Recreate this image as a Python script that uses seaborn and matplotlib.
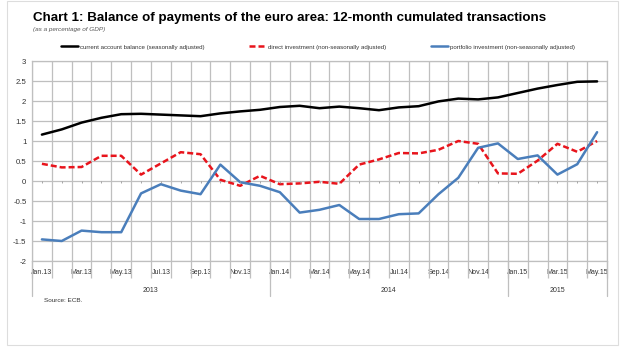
import numpy as np
import pandas as pd
import matplotlib
matplotlib.use("Agg")
import matplotlib.pyplot as plt
import seaborn as sns
from matplotlib import font_manager
from matplotlib.patches import Rectangle
from matplotlib.ticker import FixedLocator, FuncFormatter

# Monthly observations, Jan 2013 - May 2015
months = ["Jan.13", "Feb.13", "Mar.13", "Apr.13", "May.13", "Jun.13", "Jul.13",
          "Aug.13", "Sep.13", "Oct.13", "Nov.13", "Dec.13",
          "Jan.14", "Feb.14", "Mar.14", "Apr.14", "May.14", "Jun.14", "Jul.14",
          "Aug.14", "Sep.14", "Oct.14", "Nov.14", "Dec.14",
          "Jan.15", "Feb.15", "Mar.15", "Apr.15", "May.15"]

current_account = [1.16, 1.29, 1.46, 1.58, 1.67, 1.68, 1.66, 1.64, 1.62, 1.69,
                   1.74, 1.78, 1.85, 1.88, 1.82, 1.86, 1.82, 1.77, 1.84, 1.87,
                   1.99, 2.06, 2.04, 2.09, 2.20, 2.31, 2.40, 2.48, 2.49]
direct_investment = [0.43, 0.34, 0.35, 0.63, 0.63, 0.16, 0.44, 0.72, 0.67, 0.03,
                     -0.12, 0.13, -0.08, -0.06, -0.02, -0.07, 0.41, 0.54, 0.70, 0.69,
                     0.78, 1.00, 0.93, 0.19, 0.18, 0.51, 0.93, 0.73, 1.00]
portfolio_investment = [-1.46, -1.50, -1.24, -1.28, -1.28, -0.31, -0.08, -0.24, -0.33, 0.41,
                        -0.03, -0.12, -0.28, -0.79, -0.72, -0.60, -0.95, -0.95, -0.83, -0.81,
                        -0.33, 0.08, 0.83, 0.94, 0.55, 0.64, 0.16, 0.42, 1.22]

years = ["2013", "2014", "2015"]
series_names = ["current account balance (seasonally adjusted)",
                "direct investment (non-seasonally adjusted)",
                "portfolio investment (non-seasonally adjusted)"]

title = "Chart 1: Balance of payments of the euro area: 12-month cumulated transactions"
subtitle = "(as a percentage of GDP)"
source = "Source: ECB."

# long-form table for seaborn
idx = np.arange(len(months))
df = pd.concat([
    pd.DataFrame({"x": idx, "value": vals, "series": name})
    for name, vals in zip(series_names, [current_account, direct_investment, portfolio_investment])
], ignore_index=True)

available = {f.name for f in font_manager.fontManager.ttflist}
narrow = "Liberation Sans Narrow" if "Liberation Sans Narrow" in available else "Liberation Sans"

sns.set_theme(style="white")
plt.rcParams["font.family"] = [narrow, "DejaVu Sans"]

W, H = 625, 347
fig = plt.figure(figsize=(W / 100, H / 100), dpi=100)
fig.patch.set_facecolor("white")

left, right, top, bottom = 32, 607, 61, 261
ax = fig.add_axes([left / W, 1 - bottom / H, (right - left) / W, (bottom - top) / H])

LW = 1.8
DASH = [2.4, 1.2]
palette = {series_names[0]: "#000000", series_names[1]: "#e8141c", series_names[2]: "#4a7ebb"}
sns.lineplot(data=df, x="x", y="value", hue="series", palette=palette, ax=ax,
             linewidth=LW, legend=False)
ax.lines[1].set_dashes(DASH)

grid_col = "#bfbfbf"
lab_col = "#333333"
ax.set_xlim(-0.5, len(months) - 0.5)
ax.set_ylim(-2, 3)
ax.set_yticks(np.arange(-2, 3.01, 0.5))
ax.yaxis.set_major_formatter(FuncFormatter(lambda v, p: f"{v:g}"))
ax.tick_params(axis="y", length=0, pad=4, labelsize=5.6, labelcolor=lab_col)
ax.grid(axis="y", color=grid_col, linewidth=0.9)

# category boundaries: vertical grid and downward ticks
ax.xaxis.set_minor_locator(FixedLocator(np.arange(-0.5, len(months), 1.0)))
ax.xaxis.set_major_locator(FixedLocator(idx[::2]))
ax.set_xticklabels(months[::2])
ax.tick_params(axis="x", which="major", length=0, pad=6, labelsize=5.0, labelcolor=lab_col)
ax.tick_params(axis="x", which="minor", length=12, width=0.9, color=grid_col, direction="out",
               bottom=True)
ax.grid(axis="x", which="minor", color=grid_col, linewidth=0.9)
ax.set_xlabel("")
ax.set_ylabel("")
for s in ax.spines.values():
    s.set_color(grid_col)
    s.set_linewidth(0.9)

# small marks on the zero line
ax.vlines(idx, -0.05, 0, color="#999999", linewidth=0.6)

# year separators and labels
xt = ax.get_xaxis_transform()
year_bounds = [-0.5, 11.5, 23.5, len(months) - 0.5]
for b in year_bounds:
    ax.plot([b, b], [0, -0.175], transform=xt, color=grid_col, linewidth=0.9, clip_on=False)
for y0, y1, lab in zip(year_bounds[:-1], year_bounds[1:], years):
    ax.text((y0 + y1) / 2, -0.145, lab, transform=xt, ha="center", va="center",
            fontsize=5.0, color=lab_col)

# titles
fig.text(33 / W, 1 - 18 / H, title, fontsize=9.6, fontweight="bold", color="#000000",
         ha="left", va="center")
fig.text(33 / W, 1 - 30 / H, subtitle, fontsize=4.6, style="italic", color="#555555",
         ha="left", va="center")
fig.text(44 / W, 1 - 300 / H, source, fontsize=4.6, color=lab_col, ha="left", va="center")

# legend across the top
handles = [plt.Line2D([], [], color=palette[n], linewidth=LW,
                      dashes=(DASH if i == 1 else (None, None)))
           for i, n in enumerate(series_names)]
leg = fig.legend(handles, series_names, loc="center", bbox_to_anchor=(318 / W, 1 - 47 / H),
                 ncol=3, frameon=False, fontsize=4.4, handlelength=2.8, handletextpad=0.3,
                 columnspacing=7.3)
for t in leg.get_texts():
    t.set_color(lab_col)

# faint outer frame
fig.add_artist(Rectangle((7 / W, 1 - 345 / H), (618 - 7) / W, (344) / H,
                         transform=fig.transFigure, fill=False, edgecolor="#dddddd",
                         linewidth=0.8))

fig.savefig("out.png", dpi=100)
